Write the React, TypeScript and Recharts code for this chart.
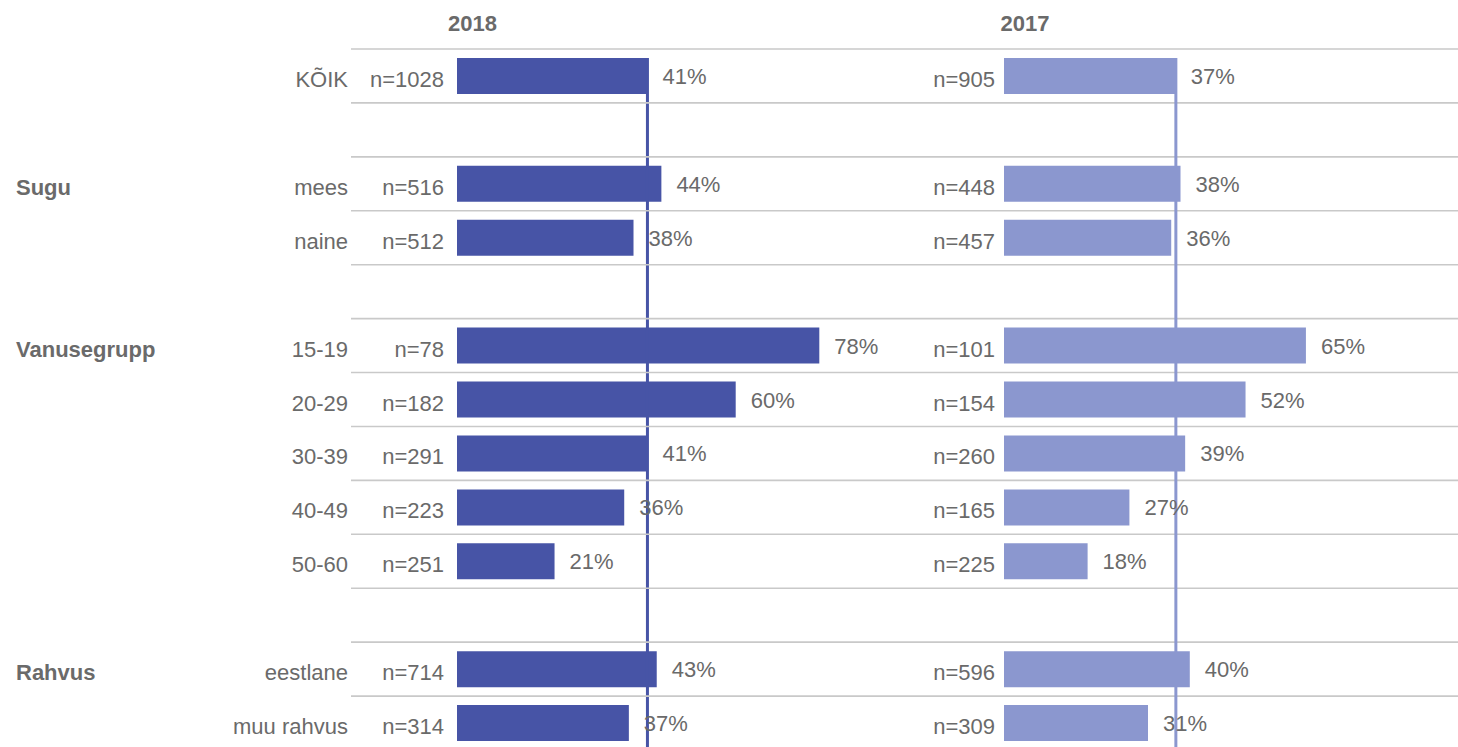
import React from 'react';
import { BarChart, Bar, XAxis, YAxis, ReferenceLine, LabelList } from 'recharts';

const rowKeys = ['KÕIK', 'gap1', 'mees', 'naine', 'gap2', '15-19', '20-29', '30-39', '40-49', '50-60', 'gap3', 'eestlane', 'muu rahvus'];
const rowLabels = ['KÕIK', '', 'mees', 'naine', '', '15-19', '20-29', '30-39', '40-49', '50-60', '', 'eestlane', 'muu rahvus'];
const groupLabels = ['', '', 'Sugu', '', '', 'Vanusegrupp', '', '', '', '', '', 'Rahvus', ''];
const values2018 = [41, null, 44, 38, null, 78, 60, 41, 36, 21, null, 43, 37];
const n2018 = ['n=1028', '', 'n=516', 'n=512', '', 'n=78', 'n=182', 'n=291', 'n=223', 'n=251', '', 'n=714', 'n=314'];
const values2017 = [37, null, 38, 36, null, 65, 52, 39, 27, 18, null, 40, 31];
const n2017 = ['n=905', '', 'n=448', 'n=457', '', 'n=101', 'n=154', 'n=260', 'n=165', 'n=225', '', 'n=596', 'n=309'];
const yearTitles = ['2018', '2017'];
const averages = [41, 37];

const rows = rowKeys.map((k, i) => ({
  key: k,
  label: rowLabels[i],
  group: groupLabels[i],
  v2018: values2018[i],
  n2018: n2018[i],
  v2017: values2017[i],
  n2017: n2017[i],
}));

const FONT = '"Liberation Sans", Arial, sans-serif';
const TEXT = '#6a6a6a';
const DARK = '#4754a6';
const LIGHT = '#8b97cf';
const GRID = '#c9c9c9';
const FS = 22;

const LeftTick = (props: any) => {
  const { x, y, payload, index } = props;
  const row = rows[index] || rows.find((r) => r.key === payload.value);
  const half = payload && payload.offset ? payload.offset : 27;
  return (
    <g>
      <line x1={351} x2={1458} y1={y - half} y2={y - half} stroke={GRID} strokeWidth={1.6} />
      {row && row.group ? (
        <text x={16} y={y + 11} fontFamily={FONT} fontSize={FS} fontWeight="bold" fill={TEXT}>
          {row.group}
        </text>
      ) : null}
      {row ? (
        <text x={x - 109} y={y + 11} textAnchor="end" fontFamily={FONT} fontSize={FS} fill={TEXT}>
          {row.label}
        </text>
      ) : null}
      {row ? (
        <text x={x - 13} y={y + 11} textAnchor="end" fontFamily={FONT} fontSize={FS} fill={TEXT}>
          {row.n2018}
        </text>
      ) : null}
    </g>
  );
};

const RightTick = (props: any) => {
  const { x, y, index, payload } = props;
  const row = rows[index] || rows.find((r) => r.key === payload.value);
  if (!row) return null;
  return (
    <text x={x - 9} y={y + 11} textAnchor="end" fontFamily={FONT} fontSize={FS} fill={TEXT}>
      {row.n2017}
    </text>
  );
};

const ValueLabel = (props: any) => {
  const { x, y, width, height, value } = props;
  if (value === null || value === undefined) return null;
  return (
    <text x={x + width + 15} y={y + height / 2 + 8} fontFamily={FONT} fontSize={FS} fill={TEXT}>
      {value}%
    </text>
  );
};

const refShape = (color: string) => (p: any) => {
  const top = Math.min(p.y1, p.y2);
  const bottom = Math.max(p.y1, p.y2);
  return <line x1={p.x1} x2={p.x2} y1={top + 9} y2={bottom} stroke={color} strokeWidth={3} />;
};

const PLOT = 464.5;

export default function App() {
  return (
    <div style={{ position: 'absolute', left: 0, top: 0, width: 1458, height: 747, overflow: 'hidden', background: '#fff' }}>
      <div style={{ position: 'absolute', left: 0, top: 0 }}>
        <BarChart
          width={1458}
          height={750}
          layout="vertical"
          data={rows}
          margin={{ top: 49, right: 1458 - 457 - PLOT, bottom: 0, left: 0 }}
          barSize={36}
        >
          <XAxis type="number" domain={[0, 100]} hide />
          <YAxis
            type="category"
            dataKey="key"
            width={457}
            tickLine={false}
            axisLine={false}
            tickSize={0}
            tickMargin={0}
            interval={0}
            tick={<LeftTick />}
          />
          <Bar dataKey="v2018" fill={DARK} isAnimationActive={false}>
            <LabelList dataKey="v2018" content={<ValueLabel />} />
          </Bar>
          <ReferenceLine x={averages[0]} stroke={DARK} strokeWidth={3} shape={refShape(DARK)} />
        </BarChart>
      </div>
      <div style={{ position: 'absolute', left: 0, top: 0 }}>
        <BarChart
          width={1470}
          height={750}
          layout="vertical"
          data={rows}
          margin={{ top: 49, right: 1470 - 1004 - PLOT, bottom: 0, left: 0 }}
          barSize={36}
        >
          <XAxis type="number" domain={[0, 100]} hide />
          <YAxis
            type="category"
            dataKey="key"
            width={1004}
            tickLine={false}
            axisLine={false}
            tickSize={0}
            tickMargin={0}
            interval={0}
            tick={<RightTick />}
          />
          <Bar dataKey="v2017" fill={LIGHT} isAnimationActive={false}>
            <LabelList dataKey="v2017" content={<ValueLabel />} />
          </Bar>
          <ReferenceLine x={averages[1]} stroke={LIGHT} strokeWidth={3} shape={refShape(LIGHT)} />
        </BarChart>
      </div>
      {yearTitles.map((t, i) => (
        <div
          key={t}
          style={{
            position: 'absolute',
            left: (i === 0 ? 472.5 : 1025) - 60,
            width: 120,
            top: 13,
            lineHeight: '22px',
            textAlign: 'center',
            fontFamily: FONT,
            fontSize: FS,
            fontWeight: 'bold',
            color: TEXT,
          }}
        >
          {t}
        </div>
      ))}
    </div>
  );
}
